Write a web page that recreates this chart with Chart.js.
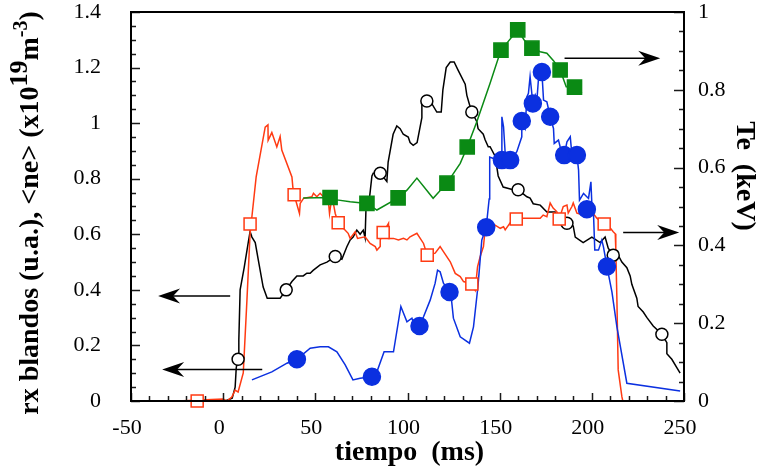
<!DOCTYPE html>
<html>
<head>
<meta charset="utf-8">
<script src="https://cdn.jsdelivr.net/npm/chart.js@4"></script>
<style>
  html, body { margin: 0; padding: 0; background: #fff; }
</style>
</head>
<body>
<canvas id="chart" width="767" height="470"></canvas>
<script>
// soft x-ray signal (u.a.), left axis
const blackT = [1, 4.9, 6.5, 7.1, 8.1, 8.5, 9.2, 11.4, 13.6, 14.6, 15.6, 17.4, 19, 21.7, 23.9, 30.9, 34.2, 37.3, 40, 43.4,
  45.4, 47.2, 48.8, 52.6, 56.3, 60.8, 64.4, 67.1, 68.9, 70.5, 72.5, 74.3, 76, 77, 77.6, 79.2, 80.7, 81.4, 85.2, 88.8,
  89.5, 92.2, 94.2, 96, 97.7, 100.4, 101.4, 103.1, 105.2, 107.8, 107.8, 110.5, 113.2, 115.9, 118.3, 119.2, 121, 123.2, 125.3, 127.5,
  131.3, 132.2, 133.5, 134.9, 137.6, 138.3, 141.1, 142.1, 143.8, 144.8, 147.6, 149.2, 151.9, 157.3, 160, 164.8, 166.5, 168.2, 172, 175.6,
  180.1, 181.7, 186.5, 189.9, 191, 195.3, 200, 204.5, 207.2, 208.9, 211.6, 214.3, 216.3, 219, 220.8, 221.7, 224.4, 225.1, 227.9, 229.9,
  233.3, 238, 240.7, 240.7, 243.4, 246.1, 247.9];
const blackV = [0, 0.01, 0.05, 0.12, 0.15, 0.22, 0.40, 0.48, 0.57, 0.61, 0.59, 0.57, 0.51, 0.41, 0.37, 0.37, 0.40, 0.43, 0.45, 0.45,
  0.46, 0.46, 0.47, 0.49, 0.50, 0.52, 0.51, 0.555, 0.58, 0.59, 0.615, 0.60, 0.615, 0.587, 0.72, 0.72, 0.81, 0.82, 0.82, 0.79,
  0.86, 0.96, 0.99, 0.98, 0.96, 0.95, 0.93, 0.92, 0.93, 1.02, 1.08, 1.08, 1.07, 1.04, 1.04, 1.12, 1.20, 1.22, 1.22, 1.19,
  1.14, 1.10, 1.07, 1.04, 1.005, 0.98, 0.96, 0.94, 0.915, 0.915, 0.88, 0.81, 0.77, 0.76, 0.76, 0.735, 0.73, 0.71, 0.705, 0.68,
  0.68, 0.66, 0.64, 0.63, 0.59, 0.57, 0.59, 0.57, 0.59, 0.55, 0.525, 0.525, 0.50, 0.48, 0.45, 0.42, 0.37, 0.34, 0.32, 0.30,
  0.27, 0.24, 0.21, 0.17, 0.15, 0.12, 0.10];
const blackMarkT = [8.1, 34.2, 60.8, 85.2, 110.5, 134.9, 160, 186.5, 211.6, 238];
const blackMarkV = [0.15, 0.40, 0.52, 0.82, 1.08, 1.04, 0.76, 0.64, 0.525, 0.24];

// red trace, right axis
const redT = [-25, 0, 2, 4.7, 6.5, 8.1, 10.9, 12.9, 14.6, 17.9, 22.8, 24.3, 24.4, 26.4, 29.1, 30.9, 31.8, 37.3, 37.8, 38.5,
  41.4, 41.8, 43.6, 48.1, 49, 50.8, 52.6, 54.4, 57.1, 57.7, 58.6, 59.8, 60.8, 62.4, 67.8, 68.9, 71.6, 72.9, 77, 79.7,
  82.5, 83.4, 85.2, 85.2, 86.8, 89.7, 89.7, 92.4, 95.1, 97.8, 99.7, 101.4, 105.1, 106.9, 108.7, 110.7, 115, 117.7, 119.5, 123.2,
  125.9, 128.6, 130.4, 134.9, 136.7, 138, 139.4, 141.2, 142.1, 144.8, 147.6, 150.3, 152.1, 153, 155.7, 159, 162.8, 172, 173.6, 175.6,
  177.4, 179, 181, 182.3, 184.5, 186.5, 187.2, 189.2, 189.9, 191.9, 195.3, 200, 202.7, 206.7, 209.9, 211.6, 212.7, 213, 213.6, 214.3,
  216.3, 216.8];
const redV = [0, 0.005, 0, 0.01, 0.028, 0.023, 0.072, 0.26, 0.43, 0.576, 0.704, 0.71, 0.67, 0.69, 0.653, 0.68, 0.645, 0.576, 0.55, 0.53,
  0.482, 0.508, 0.521, 0.525, 0.534, 0.525, 0.534, 0.525, 0.512, 0.482, 0.512, 0.508, 0.482, 0.458, 0.431, 0.418, 0.435, 0.418, 0.422, 0.405,
  0.397, 0.388, 0.397, 0.414, 0.433, 0.457, 0.418, 0.418, 0.414, 0.418, 0.414, 0.422, 0.431, 0.418, 0.405, 0.375, 0.38, 0.397, 0.384, 0.358,
  0.328, 0.32, 0.307, 0.301, 0.285, 0.345, 0.371, 0.397, 0.44, 0.431, 0.452, 0.444, 0.448, 0.44, 0.458, 0.468, 0.47, 0.47, 0.478, 0.474,
  0.509, 0.496, 0.487, 0.468, 0.5, 0.504, 0.483, 0.5, 0.509, 0.483, 0.478, 0.487, 0.47, 0.455, 0.445, 0.435, 0.43, 0.39, 0.26, 0.08,
  0.011, 0];
const redMarkT = [-14.1, 14.6, 38.5, 62.4, 86.8, 110.7, 134.9, 159, 182.3, 206.7];
const redMarkV = [0, 0.455, 0.53, 0.458, 0.433, 0.375, 0.301, 0.468, 0.468, 0.455];

// Te (keV), right axis
const greenT = [43.4, 58, 61.7, 68.9, 78, 83.4, 94.9, 99.7, 105.1, 113.9, 121.4, 128.6, 132.4, 137.6, 144.8, 150.7, 153.9, 159.8,
  163.3, 167.5, 172, 175.6, 179.2, 182.8, 186.1, 190.6, 194.6];
const greenV = [0.522, 0.523, 0.517, 0.512, 0.508, 0.491, 0.522, 0.542, 0.573, 0.521, 0.56, 0.611, 0.653, 0.718, 0.817, 0.902, 0.92, 0.954,
  0.928, 0.907, 0.898, 0.894, 0.875, 0.851, 0.808, 0.807, 0.792];
const greenMarkT = [58, 78, 94.9, 121.4, 132.4, 150.7, 159.8, 167.5, 182.8, 190.6];
const greenMarkV = [0.523, 0.508, 0.522, 0.56, 0.653, 0.902, 0.954, 0.907, 0.851, 0.807];

// <ne> (x10^19 m^-3), left axis
const blueT = [15.6, 26.4, 34.6, 40, 47.2, 52.6, 57.1, 61.7, 66.2, 70.4, 74.3, 80.7, 83.4, 87.3, 92.4, 96.4, 99.7, 102.4, 104.2, 106.5,
  108.7, 112.3, 115, 116.3, 117.7, 119.5, 122.8, 123.7, 124.9, 128.6, 133.6, 135.8, 138.2, 140.3, 142.7, 144.3, 144.6, 146.6, 148.6, 151.2,
  151.2, 152.1, 153, 155.7, 159.3, 162, 162, 163.8, 164.8, 165.6, 166.5, 168, 169.3, 170.2, 171, 172.9, 173.8, 175.6, 177.4, 179.2,
  179.6, 181.9, 182.8, 185, 186.5, 188.3, 189.2, 191.9, 192.8, 193.3, 195.5, 198.2, 199.5, 200, 200.9, 201.6, 203.6, 205.4, 206.3, 208.2,
  210.9, 213.6, 219, 247.9];
const blueV = [0.076, 0.105, 0.136, 0.15, 0.19, 0.195, 0.195, 0.177, 0.13, 0.076, 0.082, 0.087, 0.105, 0.177, 0.177, 0.34, 0.285, 0.298, 0.262, 0.27,
  0.303, 0.363, 0.424, 0.471, 0.465, 0.424, 0.392, 0.375, 0.298, 0.231, 0.208, 0.267, 0.411, 0.579, 0.625, 0.727, 0.878, 0.873, 0.867, 0.867,
  1.023, 0.987, 0.891, 0.867, 0.897, 0.951, 1.008, 0.981, 1.095, 1.107, 1.167, 1.071, 1.101, 1.083, 1.155, 1.184, 1.083, 1.077, 1.023, 0.981,
  0.927, 0.939, 0.915, 0.885, 0.933, 0.951, 0.885, 0.885, 0.831, 0.723, 0.747, 0.729, 0.789, 0.711, 0.675, 0.543, 0.543, 0.579, 0.555, 0.484,
  0.393, 0.267, 0.064, 0.036];
const blueMarkT = [40, 80.7, 106.5, 122.8, 142.7, 151.2, 155.7, 162, 168, 172.9, 177.4, 185, 191.9, 197.3, 208.2];
const blueMarkV = [0.15, 0.087, 0.27, 0.392, 0.625, 0.867, 0.867, 1.008, 1.071, 1.184, 1.023, 0.885, 0.885, 0.69, 0.484];

// arrows telling which axis each trace belongs to
const arrowAxis = ['yL', 'yL', 'yR', 'yR'];
const arrowLevel = [0.378, 0.113, 0.881, 0.433];
const arrowFrom = [3.8, 21.2, 185.2, 217];
const arrowTo = [-35.3, -33.1, 237.1, 247.4];

const xTicks = [-50, 0, 50, 100, 150, 200, 250];

const BLACK = '#000000', RED = '#ff3a12', GREEN = '#0a8a14', BLUE = '#0b30e0';
const FAMILY = "'Liberation Serif', 'Times New Roman', serif";

const pts = (t, v) => t.map((x, i) => ({ x: x, y: v[i] }));

function lineSet(t, v, color, axis) {
  return { data: pts(t, v), yAxisID: axis, showLine: true, borderColor: color, borderWidth: 1.5,
    pointRadius: 0, tension: 0, clip: false };
}
function markSet(t, v, axis, style, r, fill, stroke) {
  return { data: pts(t, v), yAxisID: axis, showLine: false, pointStyle: style, pointRadius: r,
    backgroundColor: fill, borderColor: stroke, borderWidth: 1.5, clip: false };
}

const fmt = v => String(+Number(v).toFixed(2));

// keep the tick labels from pushing the plot area down
const trimPad = s => { s.paddingTop = 12; s.paddingBottom = 12; };

const frame = {
  id: 'frame',
  afterDatasetsDraw(chart) {
    const ctx = chart.ctx, a = chart.chartArea;
    const x = chart.scales.x, yL = chart.scales.yL, yR = chart.scales.yR;
    ctx.save();
    ctx.strokeStyle = '#1a1a1a';
    ctx.lineWidth = 1.5;
    ctx.beginPath();
    // inward ticks
    for (let v = -50; v <= 250; v += 10) {
      const px = Math.round(x.getPixelForValue(v)) + 0.5;
      const len = v % 50 === 0 ? 8 : 5;
      ctx.moveTo(px, a.bottom); ctx.lineTo(px, a.bottom - len);
    }
    for (let i = 0; i <= 28; i++) {
      const py = Math.round(yL.getPixelForValue(i * 0.05)) + 0.5;
      const len = i % 4 === 0 ? 9 : 5;
      ctx.moveTo(a.left, py); ctx.lineTo(a.left + len, py);
    }
    for (let i = 0; i <= 20; i++) {
      const py = Math.round(yR.getPixelForValue(i * 0.05)) + 0.5;
      const len = i % 4 === 0 ? 10 : 5;
      ctx.moveTo(a.right, py); ctx.lineTo(a.right - len, py);
    }
    ctx.stroke();
    ctx.strokeStyle = '#000';
    ctx.lineWidth = 2;
    ctx.strokeRect(a.left, a.top, a.right - a.left, a.bottom - a.top);

    // arrows
    ctx.lineWidth = 1.5;
    ctx.fillStyle = '#000';
    arrowAxis.forEach((ax, i) => {
      const py = chart.scales[ax].getPixelForValue(arrowLevel[i]);
      const x0 = x.getPixelForValue(arrowFrom[i]);
      const x1 = x.getPixelForValue(arrowTo[i]);
      const dir = x1 > x0 ? 1 : -1;
      ctx.beginPath();
      ctx.moveTo(x0, py); ctx.lineTo(x1 - dir * 10, py);
      ctx.stroke();
      ctx.beginPath();
      ctx.moveTo(x1, py);
      ctx.lineTo(x1 - dir * 22, py - 7.5);
      ctx.lineTo(x1 - dir * 15, py);
      ctx.lineTo(x1 - dir * 22, py + 7.5);
      ctx.closePath();
      ctx.fill();
    });
    ctx.restore();
  },
  afterDraw(chart) {
    const ctx = chart.ctx, a = chart.chartArea;
    ctx.save();
    ctx.fillStyle = '#000';
    ctx.textBaseline = 'alphabetic';

    // x title
    ctx.font = 'bold 28px ' + FAMILY;
    ctx.textAlign = 'center';
    ctx.fillText('tiempo  (ms)', (a.left + a.right) / 2 + 2, 460);

    // left title, rotated, with raised exponents
    const parts = [
      ['rx blandos (u.a.), <ne> (x10', 0, 28],
      ['19', -11, 26],
      ['m', 0, 28],
      ['-3', -11, 20],
      [')', 0, 28]
    ];
    ctx.textAlign = 'left';
    let total = 0;
    parts.forEach(p => { ctx.font = 'bold ' + p[2] + 'px ' + FAMILY; total += ctx.measureText(p[0]).width; });
    ctx.translate(38, 213);
    ctx.rotate(-Math.PI / 2);
    let cx = -total / 2;
    parts.forEach(p => {
      ctx.font = 'bold ' + p[2] + 'px ' + FAMILY;
      ctx.fillText(p[0], cx, p[1]);
      cx += ctx.measureText(p[0]).width;
    });
    ctx.setTransform(1, 0, 0, 1, 0, 0);

    // right title
    ctx.translate(737, 176);
    ctx.rotate(Math.PI / 2);
    ctx.font = 'bold 28px ' + FAMILY;
    ctx.textAlign = 'center';
    ctx.fillText('Te  (keV)', 0, 0);
    ctx.restore();
  }
};

Chart.defaults.font.family = FAMILY;
Chart.defaults.color = '#000';

new Chart(document.getElementById('chart'), {
  type: 'scatter',
  data: {
    datasets: [
      markSet(blueMarkT, blueMarkV, 'yL', 'circle', 8.5, BLUE, BLUE),
      markSet(greenMarkT, greenMarkV, 'yR', 'rect', 10, GREEN, GREEN),
      markSet(redMarkT, redMarkV, 'yR', 'rect', 8.5, '#ffffff', RED),
      markSet(blackMarkT, blackMarkV, 'yL', 'circle', 6, '#ffffff', BLACK),
      lineSet(blueT, blueV, BLUE, 'yL'),
      lineSet(greenT, greenV, GREEN, 'yR'),
      lineSet(redT, redV, RED, 'yR'),
      lineSet(blackT, blackV, BLACK, 'yL')
    ]
  },
  options: {
    responsive: false,
    animation: false,
    devicePixelRatio: 1,
    layout: { padding: 0 },
    plugins: { legend: { display: false }, tooltip: { enabled: false } },
    scales: {
      x: {
        type: 'linear', position: 'bottom', min: -50, max: 250,
        grid: { display: false, drawTicks: false }, border: { display: false },
        afterBuildTicks: s => { s.ticks = xTicks.map(v => ({ value: v })); },
        ticks: { font: { size: 22 }, color: '#000', padding: 14, labelOffset: -4, maxRotation: 0, callback: fmt },
        afterFit: s => { s.height = 69; }
      },
      yL: {
        type: 'linear', position: 'left', min: 0, max: 1.4,
        grid: { display: false, drawTicks: false }, border: { display: false },
        ticks: { stepSize: 0.2, font: { size: 22 }, color: '#000', padding: 30, callback: fmt },
        afterFit: s => { s.width = 131; trimPad(s); }
      },
      yR: {
        type: 'linear', position: 'right', min: 0, max: 1,
        grid: { display: false, drawTicks: false }, border: { display: false },
        ticks: { stepSize: 0.2, font: { size: 22 }, color: '#000', padding: 14, callback: fmt },
        afterFit: s => { s.width = 83; trimPad(s); }
      }
    }
  },
  plugins: [frame]
});
</script>
</body>
</html>
